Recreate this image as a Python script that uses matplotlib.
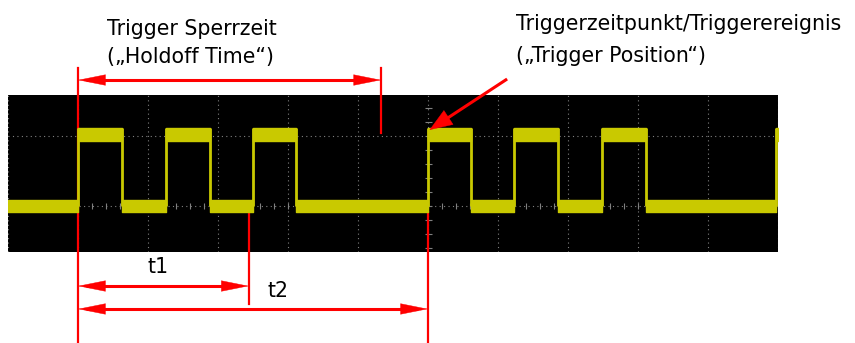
import matplotlib.pyplot as plt
import numpy as np

# Signalflanken in Skalenteilen (div), Triggerpunkt bei 6 div
rises = [1.0, 2.26, 3.5, 6.0, 7.23, 8.49, 10.97]
falls = [1.63, 2.89, 4.11, 6.62, 7.86, 9.11]
high_level = 1.02
low_level = 0.0

holdoff_end = 5.33
t1_end = 3.44
trigger_x = 6.0

n_xdiv = 11
screen_top = 1.586
screen_bottom = -0.657

yellow = '#c9c900'
red = '#ff0000'

fig = plt.figure(figsize=(8.55, 3.43), dpi=100)
ax = fig.add_axes([8 / 855, (343 - 252) / 343, 770 / 855, (252 - 95) / 343])
ax.set_facecolor('black')
ax.set_xlim(0, n_xdiv)
ax.set_ylim(screen_bottom, screen_top)
ax.set_xticks([])
ax.set_yticks([])
for s in ax.spines.values():
    s.set_visible(False)

# Raster
for gx in range(n_xdiv + 1):
    ax.axvline(gx, color='#808080', lw=0.8, ls=(0, (1, 3)), zorder=1)
for gy in [0, 1]:
    ax.axhline(gy, color='#808080', lw=0.8, ls=(0, (1, 3)), zorder=1)
minor = np.arange(0, n_xdiv + 0.01, 0.2)
ax.vlines(minor, -0.04, 0.04, color='#808080', lw=0.8, zorder=1)
yminor = np.arange(-0.6, 1.6, 0.2)
ax.hlines(yminor, trigger_x - 0.05, trigger_x + 0.05, color='#808080', lw=0.8, zorder=1)

# Rote Linien (hinter dem Signal)
ax.plot([1.0, 1.0], [1.97, -1.94], color=red, lw=1.6, clip_on=False, zorder=2)
ax.plot([holdoff_end, holdoff_end], [1.97, 1.04], color=red, lw=1.6, clip_on=False, zorder=2)
ax.plot([t1_end, t1_end], [-0.086, -1.40], color=red, lw=1.6, clip_on=False, zorder=2)
ax.plot([trigger_x, trigger_x], [-0.086, -1.94], color=red, lw=1.6, clip_on=False, zorder=2)

# Signal
edges = sorted(rises + falls)
starts = [0.0] + edges
ends = edges + [n_xdiv]
for i, (a, b) in enumerate(zip(starts, ends)):
    lvl = low_level if i % 2 == 0 else high_level
    ax.broken_barh([(a, b - a)], (lvl - 0.09, 0.18), color=yellow, zorder=3)
ax.vlines(edges, low_level, high_level + 0.09, color=yellow, lw=2, zorder=3)


def arrow(x0, y0, x1, y1, style, hl, hw, lw=2.2):
    # Pfeilspitzen duenn umrandet, Schaft als eigene Linie
    ax.annotate('', xy=(x1, y1), xytext=(x0, y0), annotation_clip=False,
                arrowprops=dict(arrowstyle=f'{style},head_length={hl},head_width={hw}',
                                mutation_scale=1, color=red, lw=0.3,
                                shrinkA=0, shrinkB=0), zorder=4)
    f = 0.15
    sx0 = x0 + (x1 - x0) * (0.0 if style == '-|>' else 0.12 / abs(x1 - x0))
    sx1 = x1 - (x1 - x0) * f / np.hypot(x1 - x0, y1 - y0)
    sy0 = y0 if style != '-|>' else y0
    sy1 = y1 - (y1 - y0) * f / np.hypot(x1 - x0, y1 - y0)
    ax.plot([sx0, sx1], [sy0, sy1], color=red, lw=lw, clip_on=False,
            solid_capstyle='butt', zorder=4)


arrow(1.0, 1.80, holdoff_end, 1.80, '<|-|>', 19, 3.8)
arrow(1.0, -1.143, t1_end, -1.143, '<|-|>', 19, 3.8)
arrow(1.0, -1.471, trigger_x, -1.471, '<|-|>', 19, 3.8)
arrow(7.13, 1.814, trigger_x + 0.02, 1.086, '-|>', 16, 6)

fs = 14.8
ax.text(1.414, 2.443, 'Trigger Sperrzeit', fontsize=fs, va='baseline', clip_on=False)
ax.text(1.414, 2.043, '(„Holdoff Time“)', fontsize=fs, va='baseline', clip_on=False)
ax.text(7.257, 2.514, 'Triggerzeitpunkt/Triggerereignis', fontsize=fs, va='baseline', clip_on=False)
ax.text(7.257, 2.057, '(„Trigger Position“)', fontsize=fs, va='baseline', clip_on=False)
ax.text(1.986, -0.957, 't1', fontsize=fs, va='baseline', clip_on=False)
ax.text(3.71, -1.30, 't2', fontsize=fs, va='baseline', clip_on=False)

fig.savefig('out.png', dpi=100)
